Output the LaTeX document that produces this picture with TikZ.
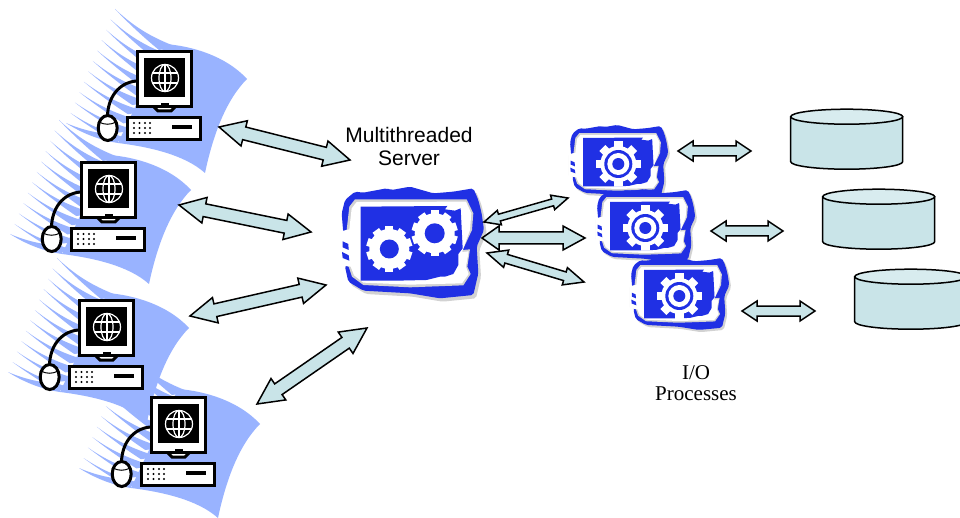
\documentclass[tikz,border=0pt]{standalone}
\usepackage{fontspec}
\setmainfont{Liberation Serif}
\setsansfont{Liberation Sans}
\usetikzlibrary{calc}
\definecolor{blobblue}{HTML}{99B3FF}
\definecolor{gearblue}{HTML}{2030E4}
\definecolor{palecyan}{HTML}{C9E4E8}
\definecolor{lightcyan}{HTML}{D8ECEF}
\definecolor{shadowgray}{HTML}{D2D2D2}
\tikzset{
  barrow/.style={draw=black,line width=1.5pt,fill=palecyan,line join=miter},
  cylside/.style={draw=black,line width=1.5pt,fill=palecyan},
  cyltop/.style={draw=black,line width=1.5pt,fill=lightcyan},
  blackline/.style={draw=black,line width=3pt},
  globeline/.style={draw=white,line width=1.2pt},
  label/.style={inner sep=0pt,align=center}
}
% from, to, head length at from, head length at to, head half width, shaft half width
\newcommand\blockarrow[6]{%
  \coordinate (p1) at ($(#1)!#3pt!(#2)$);
  \coordinate (p2) at ($(#2)!#4pt!(#1)$);
  \draw[barrow] (#1) -- ($(p1)!#5pt!90:(#2)$) -- ($(p1)!#6pt!90:(#2)$)
    -- ($(p2)!#6pt!-90:(#1)$) -- ($(p2)!#5pt!-90:(#1)$) -- (#2)
    -- ($(p2)!#5pt!90:(#1)$) -- ($(p2)!#6pt!90:(#1)$)
    -- ($(p1)!#6pt!-90:(#2)$) -- ($(p1)!#5pt!-90:(#2)$) -- cycle;
}
\newcommand\clientblob[2]{%
  \begin{scope}[shift={(#1,#2)}]
    \fill[blobblue] (165,44) .. controls (192,46) and (226,56) .. (247,79)
      .. controls (226,100) and (213,135) .. (205,173)
      .. controls (185,155) and (150,147) .. (118,143)
      -- cycle;
    \foreach \i in {0,...,10}{
      \pgfmathsetmacro\tx{115-4.45*\i}
      \pgfmathsetmacro\ty{9+10.4*\i}
      \pgfmathsetmacro\k{1-0.03*\i}
      \fill[blobblue] (\tx,\ty) .. controls (\tx+15,\ty+14*\k) and (\tx+32,\ty+27*\k) .. (\tx+62,\ty+38*\k)
        -- (\tx+44,\ty+41*\k) .. controls (\tx+30,\ty+29.5*\k) and (\tx+14,\ty+15*\k) .. cycle;
    }
    \fill[blobblue] (66,123) .. controls (80,132) and (98,140) .. (118,143) -- (118,135) .. controls (100,134) and (82,130) .. cycle;
  \end{scope}
}
\newcommand\clientpc[2]{%
  \begin{scope}[shift={(#1,#2)}]
    % monitor
    \draw[blackline,fill=white] (153,106) -- (158,111) -- (171,111) -- (176,106);
    \draw[blackline,fill=white] (137.5,51.5) rectangle (191.5,106.5);
    \fill[black] (144,58) rectangle (185,97);
    \fill[black] (161,103) rectangle (169,107);
    \draw[globeline] (165,78) circle (13.5);
    \draw[globeline] (165,78) ellipse (6 and 13.5);
    \draw[globeline] (165,64.5) -- (165,91.5);
    \draw[globeline] (152.5,73) -- (177.5,73);
    \draw[globeline] (152.5,83) -- (177.5,83);
    % tower
    \draw[blackline,fill=white] (127.5,117.5) rectangle (200.5,139.5);
    \fill[black] (172,125) rectangle (192,129);
    \foreach \cx in {134,139.5,145,150}\foreach \cy in {123,128,133}
      \fill[black] (\cx,\cy) circle (1.1);
    % cable and mouse
    \draw[blackline,line cap=round] (136,81) .. controls (118,83) and (108,98) .. (107.5,116);
    \draw[blackline,fill=white] (107.7,128) ellipse (9.5 and 12.5);
    \draw[black,line width=1pt] (99,122) .. controls (104,125) and (111,125) .. (116,122);
  \end{scope}
}
\newcommand\gearframe[4]{%
  \begin{scope}[shift={(#1,#2)},x=#3pt,y=-#4pt]
    \def\outerpath{[rounded corners=2pt] (35,130) -- (45,90) -- (75,65) -- (100,68) -- (170,55) -- (185,60) -- (240,50) -- (310,70) -- (370,65) -- (430,55) -- (445,90) -- (455,130) -- (462,180) -- (440,230) -- (445,310) -- (430,375) -- (330,385) -- (240,370) -- (100,362) -- (55,335) -- (45,290) -- (58,250) -- (40,190) -- cycle}
    \fill[shadowgray,shift={(8,10)}] \outerpath;
    \fill[gearblue] \outerpath;
    \fill[shadowgray] (58,110) -- (75,88) -- (410,88) -- (430,130) -- (426,180) -- (398,240) -- (420,238) -- (412,290) -- (422,312) -- (400,346) -- (240,352) -- (100,345) -- (66,320) -- (56,290) -- (30,280) -- (30,190) -- (50,180) -- cycle;
    \fill[white] (65,115) -- (80,96) -- (408,95) -- (424,130) -- (420,180) -- (396,246) -- (416,244) -- (408,290) -- (416,312) -- (396,340) -- (240,344) -- (100,338) -- (72,316) -- (62,290) -- (28,285) -- (28,185) -- (58,178) -- cycle;
    \fill[gearblue] (38,214) -- (55,222) -- (56,240) -- (38,232) -- cycle;
    \fill[gearblue] (36,246) -- (56,256) -- (58,272) -- (38,264) -- cycle;
    \fill[gearblue] (92,110) -- (352,108) -- (345,118) -- (375,122) -- (392,115) -- (398,235) -- (385,252) -- (385,285) -- (370,312) -- (345,320) -- (330,320) -- (290,330) -- (200,332) -- (92,332) -- cycle;
  \end{scope}
}
\newcommand\gearwheel[6]{% cx cy outer body teeth toothhalfwidth
  \begin{scope}[shift={(#1,#2)}]
    \fill[white] (0,0) circle (#4);
    \pgfmathsetmacro\stepang{360/#5}
    \foreach \n in {1,...,#5}{
      \fill[white,rotate=\n*\stepang] (-#6,0) -- (-#6,#3-0.5) -- (#6,#3-0.5) -- (#6,0) -- cycle;
    }
  \end{scope}
}
\begin{document}
\begin{tikzpicture}[x=1pt,y=-1pt]
\useasboundingbox (0,0) rectangle (960,518);
\fill[white] (0,0) rectangle (960,518);

\clientblob{0}{0}
\clientblob{-56}{111}
\clientblob{-58}{249}
\clientblob{13}{345}
\clientpc{0}{0}
\clientpc{-56}{111}
\clientpc{-58}{249}
\clientpc{14}{346}

% server
\gearframe{330}{170}{0.3333}{0.3333}
\gearwheel{389.3}{249}{23.5}{20}{10}{4}
\fill[gearblue] (389.3,249) circle (9.5);
\gearwheel{434.7}{233.3}{23.5}{20}{10}{4}
\fill[gearblue] (434.7,233.3) circle (10);

% processes
\foreach \ox/\oy in {0/0,27/64,61/132}{
  \gearframe{562+\ox}{114+\oy}{0.23}{0.218}
  \gearwheel{618.3+\ox}{164+\oy}{23}{18}{8}{4.2}
  \fill[gearblue] (618.3+\ox,164+\oy) circle (14);
  \fill[white] (618.3+\ox,164+\oy) circle (11);
  \fill[gearblue] (618.3+\ox,164+\oy) circle (6);
}

% disks
\foreach \ox/\oy in {0/0,32/80,64/160}{
  \draw[cylside] (790.7+\ox,116.7+\oy) -- (790.7+\ox,161.7+\oy)
    arc[start angle=180,end angle=0,x radius=56,y radius=7.5]
    -- (902.7+\ox,116.7+\oy);
  \draw[cyltop] (846.7+\ox,116.7+\oy) ellipse (56 and 7.5);
}

% labels
\node[label,font=\sffamily\fontsize{21}{23}\selectfont] (serverlabel) at (409,146.5) {Multithreaded\\Server};
\node[label,font=\rmfamily\fontsize{21}{21}\selectfont] (iolabel) at (696,383.5) {I/O\\Processes};

% connector ends
\coordinate (a1) at (219,127); \coordinate (b1) at (350,160);
\coordinate (a2) at (179,205); \coordinate (b2) at (311,232);
\coordinate (a3) at (190,316); \coordinate (b3) at (326,285);
\coordinate (a4) at (257,404); \coordinate (b4) at (367,328);
\coordinate (c1) at (484,222); \coordinate (d1) at (568,198);
\coordinate (c2) at (482,238); \coordinate (d2) at (585,238);
\coordinate (c3) at (487,253); \coordinate (d3) at (584,282);
\coordinate (e1) at (678,151); \coordinate (f1) at (751,151);
\coordinate (e2) at (711,231); \coordinate (f2) at (783,231);
\coordinate (e3) at (742,311); \coordinate (f3) at (815,311);

\blockarrow{a1}{b1}{26}{26}{13}{6.5}
\blockarrow{a2}{b2}{26}{26}{13}{6.5}
\blockarrow{a3}{b3}{26}{26}{13}{6.5}
\blockarrow{a4}{b4}{26}{26}{13}{6.5}
\blockarrow{c1}{d1}{16}{16}{7.5}{3.5}
\blockarrow{c2}{d2}{17}{22}{12}{6}
\blockarrow{c3}{d3}{20}{20}{9}{4.5}
\blockarrow{e1}{f1}{15}{15}{10}{5}
\blockarrow{e2}{f2}{15}{15}{10}{5}
\blockarrow{e3}{f3}{15}{15}{10}{5}
\end{tikzpicture}
\end{document}
